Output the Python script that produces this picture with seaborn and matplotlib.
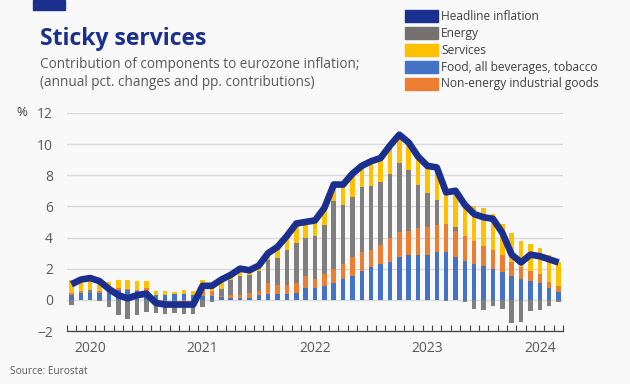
import numpy as np
import pandas as pd
import seaborn as sns
import matplotlib.pyplot as plt
from matplotlib.patches import Rectangle

# monthly data, Nov 2019 - Mar 2024
months = pd.date_range('2019-11-01', '2024-03-01', freq='MS')

headline = [1.0, 1.3, 1.4, 1.2, 0.7, 0.3, 0.1, 0.3, 0.4, -0.2, -0.3, -0.3, -0.3, -0.3,
            0.9, 0.9, 1.3, 1.6, 2.0, 1.9, 2.2, 3.0, 3.4, 4.1, 4.9, 5.0,
            5.1, 5.9, 7.4, 7.4, 8.1, 8.6, 8.9, 9.1, 9.9, 10.6, 10.1, 9.2,
            8.6, 8.5, 6.9, 7.0, 6.1, 5.5, 5.3, 5.2, 4.3, 2.9, 2.4, 2.9,
            2.8, 2.6, 2.4]
food = [0.32, 0.43, 0.43, 0.43, 0.47, 0.64, 0.64, 0.54, 0.54, 0.32, 0.32, 0.36, 0.36, 0.32,
        0.26, 0.26, 0.17, 0.13, 0.15, 0.15, 0.32, 0.39, 0.39, 0.39, 0.47, 0.73,
        0.79, 0.92, 1.05, 1.37, 1.56, 1.88, 2.08, 2.27, 2.46, 2.72, 2.85, 2.85,
        2.91, 3.10, 3.10, 2.72, 2.50, 2.33, 2.20, 1.95, 1.76, 1.50, 1.37, 1.18,
        1.11, 0.79, 0.51]
neig = [0.15, 0.11, 0.04, 0.11, 0.05, 0.11, 0.05, 0.10, 0.21, -0.03, -0.03, -0.03, -0.08, -0.13,
        0.38, 0.28, 0.09, 0.15, 0.17, 0.32, 0.22, 0.66, 0.59, 0.59, 0.64, 0.77,
        0.52, 0.77, 0.90, 0.96, 1.16, 1.16, 1.15, 1.28, 1.48, 1.61, 1.58, 1.73,
        1.74, 1.72, 1.74, 1.67, 1.57, 1.42, 1.23, 1.22, 1.09, 0.90, 0.77, 0.70,
        0.52, 0.37, 0.35]
energy = [-0.32, 0.0, 0.17, -0.06, -0.43, -0.96, -1.22, -0.96, -0.81, -0.81, -0.90, -0.81, -0.85, -0.78,
          -0.43, -0.17, 0.43, 1.01, 1.18, 1.13, 1.34, 1.48, 1.68, 2.19, 2.57, 2.44,
          2.82, 3.13, 4.37, 3.73, 3.85, 4.18, 4.05, 3.99, 4.15, 4.43, 3.88, 2.76,
          2.18, 1.60, -0.05, 0.30, -0.13, -0.58, -0.64, -0.39, -0.58, -1.46, -1.39, -0.71,
          -0.64, -0.39, -0.17]
services = [0.81, 0.78, 0.70, 0.70, 0.60, 0.53, 0.59, 0.55, 0.47, 0.26, 0.26, 0.15, 0.25, 0.27,
            0.64, 0.45, 0.55, 0.35, 0.45, 0.25, 0.33, 0.45, 0.70, 0.88, 1.15, 1.00,
            0.95, 1.05, 1.13, 1.39, 1.47, 1.43, 1.55, 1.60, 1.80, 1.80, 1.76, 1.85,
            1.80, 2.11, 2.00, 2.20, 1.85, 2.29, 2.48, 2.35, 2.03, 1.90, 1.65, 1.72,
            1.71, 1.73, 1.60]

year_labels = ['2020', '2021', '2022', '2023', '2024']

navy = '#1b2f8f'
layers = [
    ('Food, all beverages, tobacco', food, '#4472c4'),
    ('Non-energy industrial goods', neig, '#ed7d31'),
    ('Energy', energy, '#7f7f7f'),
    ('Services', services, '#ffc000'),
]
legend_items = [('Headline inflation', navy), ('Energy', '#767171'), ('Services', '#ffc000'),
                ('Food, all beverages, tobacco', '#4472c4'), ('Non-energy industrial goods', '#ed7d31')]

sns.set_theme(style='white')
plt.rcParams['font.family'] = ['Open Sans', 'DejaVu Sans']
bg = '#f9f9f9'

fig, ax = plt.subplots(figsize=(6.3, 3.84), dpi=100)
fig.patch.set_facecolor(bg)
ax.set_facecolor(bg)
fig.subplots_adjust(left=0.106, right=0.894, top=0.706, bottom=0.138)

idx = np.arange(len(months))
pos_base = np.zeros(len(idx))
neg_base = np.zeros(len(idx))
for name, vals, color in layers:
    vals = np.array(vals)
    bottom = np.where(vals >= 0, pos_base, neg_base)
    sns.barplot(x=idx, y=vals, bottom=bottom, color=color, width=0.48,
                saturation=1, errorbar=None, ax=ax, zorder=2, linewidth=0)
    pos_base += np.clip(vals, 0, None)
    neg_base += np.clip(vals, None, 0)

sns.lineplot(x=idx, y=headline, color=navy, linewidth=4.8, ax=ax, zorder=3,
             solid_joinstyle='round', solid_capstyle='butt')

ax.set_xlim(-0.5, len(idx) - 0.5)
ax.set_ylim(-2, 12)
ax.set_yticks(range(-2, 13, 2))
ax.yaxis.grid(True, color='#d9d9d9', linewidth=1)
ax.set_axisbelow(True)
ax.set_xlabel('')
ax.set_ylabel('')

jan_pos = [i for i, m in enumerate(months) if m.month == 1]
ax.set_xticks(jan_pos)
ax.set_xticklabels(year_labels)
ax.set_xticks(np.arange(-0.5, len(idx), 1), minor=True)
ax.tick_params(axis='x', which='major', length=0, pad=7, labelsize=10, labelcolor='#595959')
ax.tick_params(axis='x', which='minor', direction='in', length=4, width=0.8,
               color='#404040', bottom=True)
ax.tick_params(axis='y', length=0, pad=10, labelsize=10, labelcolor='#595959')

for s in ['top', 'right', 'left']:
    ax.spines[s].set_visible(False)
ax.spines['bottom'].set_color('#404040')
ax.spines['bottom'].set_linewidth(0.9)

# header
fig.patches.append(Rectangle((33 / 630, 1 - 10 / 384), 32 / 630, 10 / 384,
                             transform=fig.transFigure, color=navy))
fig.text(40 / 630, 1 - 45 / 384, 'Sticky services', fontsize=16.5, fontweight='bold',
         color=navy, va='baseline')
fig.text(40 / 630, 1 - 68 / 384, 'Contribution of components to eurozone inflation;',
         fontsize=9.8, color='#595959', va='baseline')
fig.text(40 / 630, 1 - 86 / 384, '(annual pct. changes and pp. contributions)',
         fontsize=9.8, color='#595959', va='baseline')

for k, (label, color) in enumerate(legend_items):
    yc = 1 - (16 + 17 * k) / 384
    fig.patches.append(Rectangle((405 / 630, yc - 5.8 / 384), 33 / 630, 11.6 / 384,
                                 transform=fig.transFigure, color=color))
    fig.text(441 / 630, yc, label, fontsize=8.65, color='#404040', va='center')

fig.text(22 / 630, 1 - 113 / 384, '%', fontsize=9.5, color='#404040', ha='center', va='center')
fig.text(10 / 630, 1 - 372 / 384, 'Source: Eurostat', fontsize=7.3, color='#595959', va='center')

fig.savefig('out.png', dpi=100, facecolor=bg)
